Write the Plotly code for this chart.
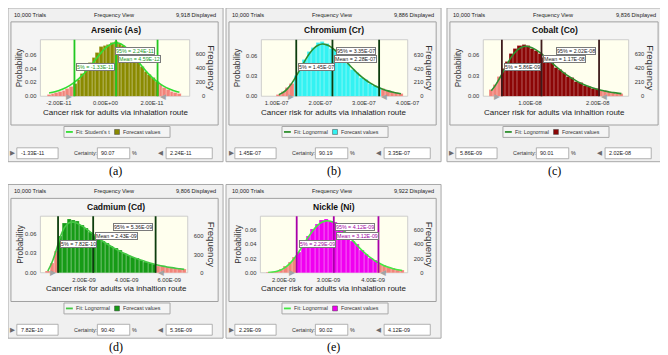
import plotly.graph_objects as go

FIG_W, FIG_H = 668, 355

# ---------------- data ----------------
elements = ["Arsenic (As)", "Chromium (Cr)", "Cobalt (Co)", "Cadmium (Cd)", "Nickle (Ni)"]
panel_tags = ["(a)", "(b)", "(c)", "(d)", "(e)"]
trials_text = "10,000 Trials"
view_text = "Frequency View"
displayed_text = ["9,918 Displayed", "9,886 Displayed", "9,836 Displayed", "9,806 Displayed", "9,922 Displayed"]
fit_names = ["Fit: Student's t", "Fit: Lognormal", "Fit: Lognormal", "Fit: Lognormal", "Fit: Lognormal"]
x_titles = ["Cancer risk for adults via inhalation route",
            "Cancer risk for adults via inhalation route",
            "Cancer risk for adults via inhaltion route",
            "Cancer risk for adults via inhaltion route",
            "Cancer risk for adults via inhalation route"]
certainty = ["90.07", "90.19", "90.01", "90.40", "90.02"]
p5_values = [-1.33e-11, 1.45e-07, 5.86e-09, 7.82e-10, 2.29e-09]
mean_values = [4.59e-12, 2.28e-07, 1.17e-08, 2.43e-09, 3.12e-09]
p95_values = [2.24e-11, 3.35e-07, 2.02e-08, 5.36e-09, 4.12e-09]
p5_labels = ["-1.33E-11", "1.45E-07", "5.86E-09", "7.82E-10", "2.29E-09"]
mean_labels = ["4.59E-12", "2.28E-07", "1.17E-08", "2.43E-09", "3.12E-09"]
p95_labels = ["2.24E-11", "3.35E-07", "2.02E-08", "5.36E-09", "4.12E-09"]

# Arsenic: bin centres (x1e-12), probability per bin, fitted curve
as_bin_e12 = [-24.2, -22.6, -21.0, -19.4, -17.8, -16.2, -14.6, -13.0, -11.4, -9.8, -8.2, -6.6,
              -5.0, -3.4, -1.8, -0.2, 1.4, 3.0, 4.6, 6.2, 7.8, 9.4, 11.0, 12.6, 14.2, 15.8,
              17.4, 19.0, 20.6, 22.2, 23.8, 25.4, 27.0, 28.6, 30.2, 31.8]
as_prob = [.0028, .0035, .0048, .0060, .0082, .0105, .0140, .0180, .0240, .0330, .0405, .0480,
           .0560, .0630, .0710, .0730, .0745, .0770, .0780, .0760, .0730, .0680, .0620, .0550,
           .0480, .0420, .0360, .0310, .0260, .0210, .0168, .0128, .0098, .0072, .0052, .0037]
as_fit = [.0046, .0057, .0071, .0089, .0111, .0138, .0171, .0210, .0255, .0307, .0365, .0428,
          .0495, .0563, .0628, .0685, .0730, .0760, .0770, .0760, .0730, .0685, .0628, .0563,
          .0495, .0428, .0365, .0307, .0255, .0210, .0171, .0138, .0111, .0089, .0071, .0057]

# Chromium (x1e-7)
cr_bin_e7 = [1.05, 1.15, 1.25, 1.35, 1.45, 1.55, 1.65, 1.75, 1.85, 1.95, 2.05, 2.15, 2.25, 2.35,
             2.45, 2.55, 2.65, 2.75, 2.85, 2.95, 3.05, 3.15, 3.25, 3.35, 3.45, 3.55, 3.65, 3.75, 3.85]
cr_prob = [.0020, .0060, .0120, .0185, .0310, .0430, .0540, .0650, .0715, .0790, .0810, .0780,
           .0700, .0690, .0600, .0555, .0480, .0395, .0350, .0280, .0245, .0185, .0160, .0120,
           .0105, .0075, .0065, .0045, .0040]
cr_fit = [.0023, .0056, .0113, .0194, .0298, .0412, .0526, .0626, .0704, .0752, .0770, .0758,
          .0726, .0673, .0611, .0542, .0473, .0406, .0342, .0286, .0236, .0193, .0156, .0125,
          .0100, .0079, .0062, .0049, .0038]

# Cobalt (x1e-9)
co_bin_e9 = [4.3, 4.9, 5.5, 6.1, 6.7, 7.3, 7.9, 8.5, 9.1, 9.7, 10.3, 10.9, 11.5, 12.1, 12.7, 13.3,
             13.9, 14.5, 15.1, 15.7, 16.3, 16.9, 17.5, 18.1, 18.7, 19.3, 19.9, 20.5, 21.1, 21.7,
             22.3, 22.9, 23.5]
co_prob = [.0090, .0170, .0280, .0400, .0510, .0620, .0690, .0740, .0750, .0745, .0700, .0660,
           .0620, .0560, .0545, .0490, .0420, .0390, .0345, .0290, .0265, .0215, .0195, .0160,
           .0145, .0115, .0105, .0085, .0078, .0060, .0055, .0044, .0038]
co_fit = [.0082, .0160, .0260, .0372, .0482, .0580, .0654, .0703, .0729, .0730, .0712, .0680,
          .0638, .0589, .0537, .0484, .0432, .0383, .0336, .0294, .0256, .0221, .0191, .0164,
          .0141, .0120, .0103, .0088, .0075, .0063, .0054, .0046, .0039]

# Cadmium (x1e-9)
cd_bin_e9 = [0.3, 0.5, 0.7, 0.9, 1.1, 1.3, 1.5, 1.7, 1.9, 2.1, 2.3, 2.5, 2.7, 2.9, 3.1, 3.3, 3.5,
             3.7, 3.9, 4.1, 4.3, 4.5, 4.7, 4.9, 5.1, 5.3, 5.5, 5.7, 5.9, 6.1, 6.3, 6.5, 6.7]
cd_prob = [.0030, .0150, .0330, .0560, .0760, .0820, .0810, .0790, .0730, .0680, .0620, .0580,
           .0530, .0490, .0450, .0410, .0370, .0340, .0300, .0270, .0240, .0215, .0190, .0168,
           .0150, .0130, .0105, .0095, .0082, .0072, .0062, .0055, .0048]
cd_fit = [.0025, .0160, .0350, .0560, .0700, .0765, .0775, .0755, .0718, .0672, .0622, .0572,
          .0524, .0479, .0437, .0398, .0362, .0327, .0295, .0265, .0238, .0213, .0190, .0168,
          .0149, .0131, .0115, .0101, .0089, .0078, .0068, .0060, .0052]

# Nickel (x1e-9)
ni_bin_e9 = [1.65, 1.75, 1.85, 1.95, 2.05, 2.15, 2.25, 2.35, 2.45, 2.55, 2.65, 2.75, 2.85, 2.95,
             3.05, 3.15, 3.25, 3.35, 3.45, 3.55, 3.65, 3.75, 3.85, 3.95, 4.05, 4.15, 4.25, 4.35,
             4.45, 4.55, 4.65]
ni_prob = [.0005, .0010, .0025, .0050, .0090, .0150, .0220, .0290, .0420, .0520, .0610, .0680,
           .0740, .0750, .0720, .0705, .0660, .0600, .0530, .0450, .0395, .0320, .0265, .0200,
           .0170, .0125, .0100, .0072, .0060, .0040, .0030]
ni_fit = [.0003, .0009, .0021, .0044, .0083, .0139, .0214, .0305, .0404, .0503, .0592, .0663,
          .0710, .0730, .0724, .0695, .0647, .0586, .0518, .0448, .0380, .0316, .0258, .0208,
          .0164, .0129, .0099, .0076, .0057, .0043, .0032]

bins = [[v * 1e-12 for v in as_bin_e12], [v * 1e-7 for v in cr_bin_e7], [v * 1e-9 for v in co_bin_e9],
        [v * 1e-9 for v in cd_bin_e9], [v * 1e-9 for v in ni_bin_e9]]
bin_width = [1.6e-12, 1e-8, 6e-10, 2e-10, 1e-10]
probs = [as_prob, cr_prob, co_prob, cd_prob, ni_prob]
fits = [as_fit, cr_fit, co_fit, cd_fit, ni_fit]

x_ranges = [[-2.793e-11, 3.62e-11], [0.65e-7, 4.005e-7], [0.3116e-8, 2.4565e-8],
            [-0.046e-9, 6.866e-9], [1.477e-9, 4.774e-9]]
x_tickvals = [[-2e-11, 0, 2e-11], [1e-7, 2e-7, 3e-7, 4e-7], [1e-8, 2e-8],
              [2e-9, 4e-9, 6e-9], [2e-9, 3e-9, 4e-9]]
x_ticktext = [["-2.00E-11", "0.00E+00", "2.00E-11"], ["1.00E-07", "2.00E-07", "3.00E-07", "4.00E-07"],
              ["1.00E-08", "2.00E-08"], ["2.00E-09", "4.00E-09", "6.00E-09"],
              ["2.00E-09", "3.00E-09", "4.00E-09"]]
prob_max = [0.0814, 0.0834, 0.0828, 0.0866, 0.0795]
prob_ticks = [[0, 0.02, 0.04, 0.06], [0, 0.03, 0.06], [0, 0.03, 0.06], [0, 0.03, 0.06], [0, 0.02, 0.04, 0.06]]
prob_ticktext = [["0.00", "0.02", "0.04", "0.06"], ["0.00", "0.03", "0.06"], ["0.00", "0.03", "0.06"],
                 ["0.00", "0.03", "0.06"], ["0.00", "0.02", "0.04", "0.06"]]
freq_max = [808, 855, 849, 932, 795]
freq_ticks = [[0, 200, 400, 600], [0, 210, 420, 630], [0, 210, 420, 630], [0, 300, 600], [0, 200, 400, 600]]
FS = "\u2007"
freq_ticktext = [[FS + FS + "0", "200", "400", "600"], [FS + FS + "0", "210", "420", "630"],
                 [FS + FS + "0", "210", "420", "630"], [FS + FS + "0", "300", "600"],
                 [FS + FS + "0", "200", "400", "600"]]

# ---------------- styles / layout ----------------
bar_colors = ["#8a8a00", "#33f2f2", "#8b0505", "#169b16", "#f000f0"]
tail_color = "#f2847a"
fit_colors = ["#33dd33", "#2f8f2f", "#2f8f2f", "#44c844", "#44e844"]
marker_colors = ["#22c822", "#0d3d0d", "#3e1c1c", "#0d3d0d", "#a800a8"]
marker_text_colors = ["#239a23", "#222222", "#222222", "#222222", "#a000a0"]

origins = [(0, 0), (222, 0), (447, 0), (0, 178), (222, 178)]
widths = [219, 219, 220, 219, 219]
plot_x = [(33, 185), (258, 407), (484, 632), (33, 183), (257, 407)]
tag_y = [164, 164, 164, 342, 342]
PY0, PY1 = 32, 89

SANS = "Liberation Sans, Arial, sans-serif"
SERIF = "Liberation Serif, Times New Roman, serif"


def X(p):
    return p / FIG_W


def Y(p):
    return 1 - p / FIG_H


shapes, annotations = [], []


def box(x0, y0, x1, y1, fill, line="#a0a0a0", lw=1, layer="below"):
    shapes.append(dict(type="rect", xref="paper", yref="paper", x0=X(x0), y0=Y(y1), x1=X(x1), y1=Y(y0),
                       fillcolor=fill, line=dict(color=line, width=lw), layer=layer))


def label(x, y, s, size=6.0, color="#202020", xanchor="center", family=SANS, angle=0, pad=1):
    annotations.append(dict(xref="paper", yref="paper", x=X(x), y=Y(y), text=s, showarrow=False,
                            xanchor=xanchor, yanchor="middle", textangle=angle, borderpad=pad,
                            font=dict(size=size, color=color, family=family)))


fig = go.Figure()
axes = {}

for i in range(5):
    ox, oy = origins[i]
    w = widths[i]
    xa = "x" if i == 0 else f"x{i + 1}"
    yl_i, yr_i = 2 * i + 1, 2 * i + 2
    yl = "y" if yl_i == 1 else f"y{yl_i}"
    yr = f"y{yr_i}"
    xa_name = "xaxis" if i == 0 else f"xaxis{i + 1}"
    yl_name = "yaxis" if yl_i == 1 else f"yaxis{yl_i}"
    yr_name = f"yaxis{yr_i}"
    px0, px1 = plot_x[i]
    py0, py1 = oy + PY0, oy + PY1

    # panel chrome
    box(ox, oy, ox + w, oy + 155, "#f0f0f0", "#a8a8a8")
    box(ox + 3, oy + 14, ox + w - 5, oy + 118, "#f4f4f4", "#a0a0a0")
    box(px0, py0, px1, py1, "#ffffee", "#c4c4c4", lw=0.8)
    label(ox + 4, oy + 7, trials_text, 5.6, xanchor="left")
    label(ox + 108, oy + 7, view_text, 5.6)
    label(ox + w - 5, oy + 7, displayed_text[i], 5.6, xanchor="right")
    label(ox + 110, oy + 22.5, "<b>" + elements[i] + "</b>", 8.5, "#111111")
    label(ox + 12, oy + 60, "Probability", 8.3, "#333333", angle=-90)
    label(ox + 207, oy + 61, "Frequency", 9.6, "#333333", angle=90)
    label(ox + 110, oy + 105, x_titles[i], 8.0, "#222222")

    # legend
    box(ox + 57, oy + 119.5, ox + 165, oy + 130.5, "#f4f4f4", "#a8a8a8")
    shapes.append(dict(type="line", xref="paper", yref="paper", x0=X(ox + 59), x1=X(ox + 66),
                       y0=Y(oy + 125), y1=Y(oy + 125), line=dict(color=fit_colors[i], width=1.8)))
    label(ox + 67.5, oy + 125, fit_names[i], 5.3, "#333333", xanchor="left")
    box(ox + 108.5, oy + 122.5, ox + 113.5, oy + 127.5, bar_colors[i], "#404040", lw=0.5)
    label(ox + 115.5, oy + 125, "Forecast values", 5.3, "#333333", xanchor="left")

    # certainty row
    label(ox + 0.5, oy + 146.5, "\u25B6", 6.5, "#6a6a6a", xanchor="left", family="DejaVu Sans")
    box(ox + 9, oy + 141, ox + 51, oy + 152, "white", "#a0a0a0", lw=0.8)
    label(ox + 11, oy + 146.5, p5_labels[i], 5.4, "#222222", xanchor="left")
    label(ox + 79, oy + 146.5, "Certainty:", 5.4, "#333333")
    box(ox + 91, oy + 141, ox + 124, oy + 152, "white", "#a0a0a0", lw=0.8)
    label(ox + 93, oy + 146.5, certainty[i], 5.4, "#222222", xanchor="left")
    label(ox + 129, oy + 146.5, "%", 5.4, "#333333")
    label(ox + 150.5, oy + 146.5, "\u25C0", 6.5, "#6a6a6a", xanchor="left", family="DejaVu Sans")
    box(ox + 161, oy + 141, ox + 208, oy + 152, "white", "#a0a0a0", lw=0.8)
    label(ox + 163, oy + 146.5, p95_labels[i], 5.4, "#222222", xanchor="left")

    # panel tag
    label(ox + w / 2, tag_y[i], panel_tags[i], 12, "#000000", family=SERIF, pad=0)

    # traces
    colors = [tail_color if (c < p5_values[i] or c > p95_values[i]) else bar_colors[i] for c in bins[i]]
    fig.add_trace(go.Bar(x=bins[i], y=probs[i], width=bin_width[i], xaxis=xa, yaxis=yl,
                         marker=dict(color=colors, line=dict(color="rgba(255,255,255,0.45)", width=0.5)),
                         hoverinfo="skip", showlegend=False))
    fig.add_trace(go.Scatter(x=bins[i], y=fits[i], mode="lines", xaxis=xa, yaxis=yl,
                             line=dict(color=fit_colors[i], width=1.6, shape="spline"),
                             hoverinfo="skip", showlegend=False))
    fig.add_trace(go.Scatter(x=[], y=[], xaxis=xa, yaxis=yr, showlegend=False))

    # marker lines
    for v in (p5_values[i], mean_values[i], p95_values[i]):
        shapes.append(dict(type="line", xref=xa, yref=f"{yl} domain", x0=v, x1=v, y0=0, y1=1,
                           line=dict(color=marker_colors[i], width=1.8), layer="above"))

    # marker labels
    tc = marker_text_colors[i]
    common = dict(yref="paper", xref=xa, showarrow=False, yanchor="middle", bgcolor="white",
                  bordercolor="#7a7a7a", borderwidth=1, borderpad=0,
                  font=dict(size=5.3, color=tc, family=SANS))
    annotations.append(dict(x=p95_values[i], y=Y(oy + 43), text="95% = " + p95_labels[i],
                            xanchor="right", xshift=-3, **common))
    annotations.append(dict(x=mean_values[i], y=Y(oy + 51.5), text="Mean = " + mean_labels[i],
                            xanchor="left", xshift=2, **common))
    annotations.append(dict(x=p5_values[i], y=Y(oy + 60), text="5% = " + p5_labels[i],
                            xanchor="left", xshift=2, **common))
    # grabbers
    annotations.append(dict(xref=xa, yref="paper", x=p5_values[i], y=Y(oy + PY1), text="\u25B6",
                            showarrow=False, xanchor="right", yanchor="middle",
                            font=dict(size=7.5, color="#a4a4a4", family="DejaVu Sans")))
    annotations.append(dict(xref=xa, yref="paper", x=p95_values[i], y=Y(oy + PY1), text="\u25C0",
                            showarrow=False, xanchor="left", yanchor="middle",
                            font=dict(size=7.5, color="#a4a4a4", family="DejaVu Sans")))

    axes[xa_name] = dict(domain=[X(px0), X(px1)], range=x_ranges[i], anchor=yl,
                         tickvals=x_tickvals[i], ticktext=x_ticktext[i], ticks="",
                         tickfont=dict(size=5.8, color="#333333", family=SANS), ticklabelstandoff=2,
                         showgrid=False, zeroline=False, showline=False, fixedrange=True)
    axes[yl_name] = dict(domain=[Y(py1), Y(py0)], range=[0, prob_max[i]], anchor=xa,
                         tickvals=prob_ticks[i], ticktext=prob_ticktext[i], ticks="",
                         tickfont=dict(size=5.8, color="#333333", family=SANS), ticklabelstandoff=3,
                         showgrid=False, zeroline=False, showline=False, fixedrange=True)
    axes[yr_name] = dict(range=[0, freq_max[i]], anchor=xa, overlaying=yl, side="right",
                         tickvals=freq_ticks[i], ticktext=freq_ticktext[i], ticks="",
                         tickfont=dict(size=5.8, color="#333333", family=SANS), ticklabelstandoff=5,
                         showgrid=False, zeroline=False, showline=False, fixedrange=True)

fig.update_layout(width=FIG_W, height=FIG_H, margin=dict(l=0, r=0, t=0, b=0), autosize=False,
                  paper_bgcolor="white", plot_bgcolor="rgba(0,0,0,0)", showlegend=False,
                  bargap=0, shapes=shapes, annotations=annotations, **axes)

fig.write_html("out.html")
